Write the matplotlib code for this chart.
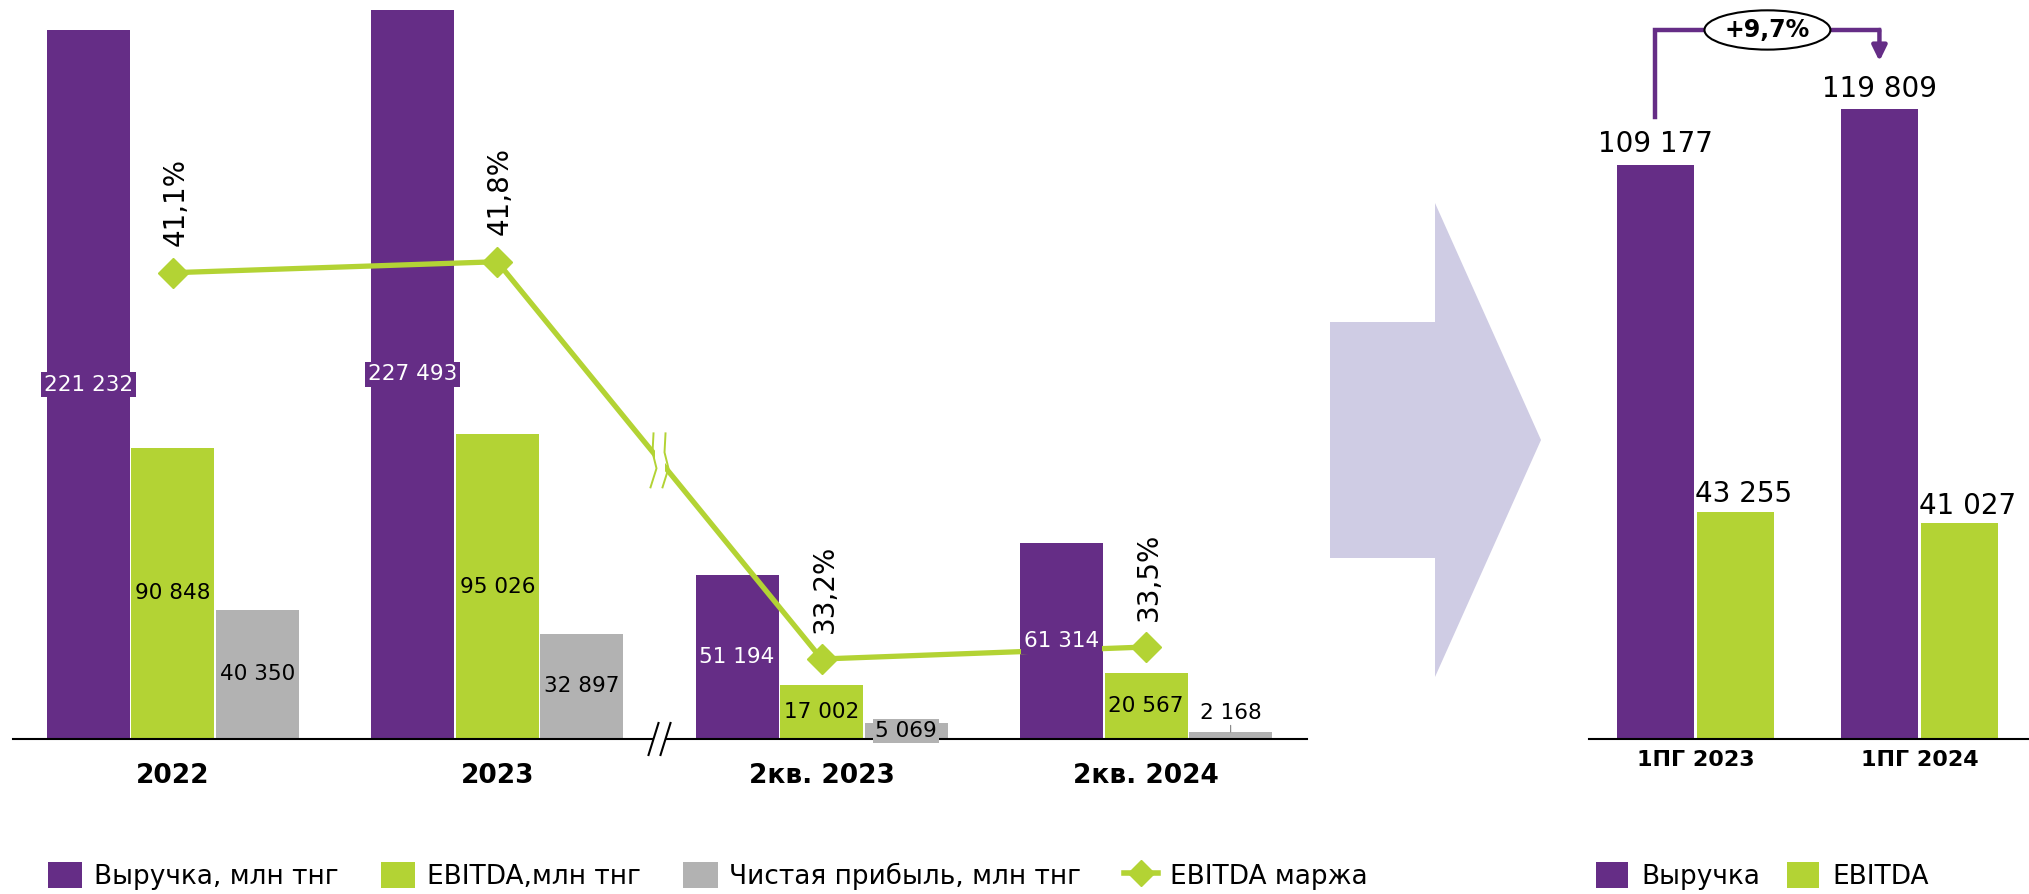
import numpy as np
import matplotlib
matplotlib.use("Agg")
import matplotlib.pyplot as plt
import matplotlib.transforms as mtransforms
from matplotlib.patches import Patch, Polygon, Rectangle
from matplotlib.lines import Line2D

# данные
periods = ["2022", "2023", "2кв. 2023", "2кв. 2024"]
revenue = [221232, 227493, 51194, 61314]
ebitda = [90848, 95026, 17002, 20567]
net_profit = [40350, 32897, 5069, 2168]
ebitda_margin = [41.1, 41.8, 33.2, 33.5]

half_years = ["1ПГ 2023", "1ПГ 2024"]
hy_revenue = [109177, 119809]
hy_ebitda = [43255, 41027]
hy_growth = "+9,7%"

legend_left = ["Выручка, млн тнг", "EBITDA,млн тнг", "Чистая прибыль, млн тнг", "EBITDA маржа"]
legend_right = ["Выручка", "EBITDA"]

PURPLE = "#652D86"
GREEN = "#B3D334"
GREY = "#B2B2B2"
LAVENDER = "#CFCCE4"

plt.rcParams['font.family'] = ['DejaVu Sans']

W, H = 2029, 894
fig = plt.figure(figsize=(W / 100, H / 100), dpi=100)


def fmt(v):
    return f"{v:,}".replace(",", " ")


def px(x, y):  # пиксели (от верхнего края) -> доли фигуры
    return x / W, 1 - y / H


# большая стрелка между графиками
arrow_pts = [(1330, 322), (1435, 322), (1435, 203), (1541, 440),
             (1435, 677), (1435, 558), (1330, 558)]
fig.add_artist(Polygon([px(*p) for p in arrow_pts], closed=True,
                       transform=fig.transFigure, fc=LAVENDER, ec='none'))

# ---- левый график ----
ax = fig.add_axes([13 / W, 155 / H, 1294 / W, 739 / H])
x = np.arange(len(periods))
bw, off = 0.256, 0.2606
ax.bar(x - off, revenue, bw, color=PURPLE)
ax.bar(x, ebitda, bw, color=GREEN)
ax.bar(x + off, net_profit, bw, color=GREY)
ax.set_xlim(-0.493, 3.496)
ax.set_ylim(0, 230600)
ax.set_yticks([])
ax.set_xticks(x, periods, fontsize=19, fontweight='bold')
ax.tick_params(axis='x', length=0, pad=17)
for s in ['top', 'left', 'right']:
    ax.spines[s].set_visible(False)
ax.spines['bottom'].set_linewidth(1.5)

# маржа EBITDA - ось с разрывом
BRK = 37.5


def fwd(v):
    v = np.asarray(v, dtype=float)
    return np.where(v < BRK, (v - 31.2) * 40, (v - 11.4) * 15.7)


def inv(h):
    h = np.asarray(h, dtype=float)
    return np.where(h < (BRK - 31.2) * 40, h / 40 + 31.2,
                    np.maximum(h / 15.7 + 11.4, BRK))


ax2 = ax.twinx()
ax2.set_yscale('function', functions=(fwd, inv))
ax2.set_ylim(31.2, 11.4 + 739 / 15.7)
ax2.set_yticks([])
for s in ax2.spines.values():
    s.set_visible(False)
ax2.plot(x, ebitda_margin, color=GREEN, lw=3.8, marker='D', ms=15, zorder=3)
for xi, m in zip(x, ebitda_margin):
    ax2.annotate(f"{m:.1f}%".replace(".", ","), (xi, m), xytext=(2, 19),
                 textcoords='offset points', rotation=90, ha='center', va='bottom', fontsize=20)

# подписи столбцов (поверх линии)
lab = dict(xycoords=ax.transData, ha='center', va='center', fontsize=15.5, zorder=5)
for i in range(len(periods)):
    ax2.annotate(fmt(revenue[i]), (x[i] - off, revenue[i] / 2), color='white',
                 bbox=dict(boxstyle='square,pad=0.13', fc=PURPLE, ec='none'), **lab)
    ax2.annotate(fmt(ebitda[i]), (x[i], ebitda[i] / 2), color='black', **lab)
    v = net_profit[i]
    share = v / max(net_profit)
    if share < 0.08:
        ax2.annotate(fmt(v), (x[i] + off, v), xycoords=ax.transData, xytext=(0, 14),
                     textcoords='offset points', ha='center', va='center', fontsize=15.5,
                     arrowprops=dict(arrowstyle='-', color='#808080', lw=0.8, shrinkA=0, shrinkB=0))
    elif share < 0.2:
        ax2.annotate(fmt(v), (x[i] + off, v / 2), color='black',
                     bbox=dict(boxstyle='square,pad=0.1', fc=GREY, ec='none'), **lab)
    else:
        ax2.annotate(fmt(v), (x[i] + off, v / 2), color='black', **lab)

# знаки разрыва
ident = mtransforms.IdentityTransform()
bx, by = ax.transData.transform((1.5, 0))
fig.add_artist(Rectangle((bx - 6, by - 3), 12, 6, transform=ident, fc='white', ec='none', zorder=5))
for dx in (-6, 6):
    fig.add_artist(Line2D([bx + dx - 5, bx + dx + 5], [by - 16, by + 16], transform=ident,
                          color='black', lw=1.5, zorder=6))

p1 = ax2.transData.transform((1, ebitda_margin[1]))
p2 = ax2.transData.transform((2, ebitda_margin[2]))
mx, my = (p1 + p2) / 2
fig.add_artist(Rectangle((mx - 5, my - 20), 10, 40, transform=ident, fc='white', ec='none', zorder=5))
zig = np.array([(0, 27), (-1, 8), (3, -8), (-3, -27)])
for dx in (-6, 6):
    fig.add_artist(Line2D(mx + dx + zig[:, 0], my + zig[:, 1], transform=ident,
                          color=GREEN, lw=1.4, zorder=6))

# ---- правый график ----
axr = fig.add_axes([1589 / W, 155 / H, 440 / W, 739 / H])
xr = np.arange(len(half_years))
bwr, offr = 0.344, 0.1786
axr.bar(xr - offr, hy_revenue, bwr, color=PURPLE)
axr.bar(xr + offr, hy_ebitda, bwr, color=GREEN)
axr.set_xlim(-0.475, 1.489)
axr.set_ylim(0, 140550)
axr.set_yticks([])
axr.set_xticks(xr, half_years, fontsize=16, fontweight='bold')
axr.tick_params(axis='x', length=0, pad=8)
for s in ['top', 'left', 'right']:
    axr.spines[s].set_visible(False)
axr.spines['bottom'].set_linewidth(1.5)

for xi, r, e in zip(xr, hy_revenue, hy_ebitda):
    axr.annotate(fmt(r), (xi - offr, r), xytext=(0, 9), textcoords='offset points',
                 ha='center', va='baseline', fontsize=20)
    axr.annotate(fmt(e), (xi + offr, e), xytext=(6, 7), textcoords='offset points',
                 ha='center', va='baseline', fontsize=20)

# скобка с приростом
gap = 9100
x0, x1 = xr[0] - offr, xr[1] - offr
y0, y1 = hy_revenue[0] + gap, hy_revenue[1] + gap
ytop = max(hy_revenue) + 15040
axr.plot([x0, x0, x1], [y0, ytop, ytop], color=PURPLE, lw=3.2,
         solid_joinstyle='miter', solid_capstyle='projecting', clip_on=False)
axr.annotate('', xy=(x1, y1), xytext=(x1, ytop),
             arrowprops=dict(arrowstyle='-|>,head_length=0.45,head_width=0.22', color=PURPLE,
                             lw=3.2, mutation_scale=20, shrinkA=0, shrinkB=0))
axr.text((x0 + x1) / 2, ytop, hy_growth, ha='center', va='center', fontsize=17,
         fontweight='bold', zorder=4,
         bbox=dict(boxstyle='ellipse,pad=0.08', fc='white', ec='black', lw=1.5))

# легенды
h_left = [Patch(fc=PURPLE), Patch(fc=GREEN), Patch(fc=GREY),
          Line2D([], [], color=GREEN, lw=4, marker='D', ms=13)]
fig.legend(h_left, legend_left, loc='center left', bbox_to_anchor=px(48, 876), ncol=4,
           frameon=False, fontsize=19, handlelength=1.3, handleheight=1.15,
           handletextpad=0.45, columnspacing=1.6, borderpad=0, borderaxespad=0)
fig.legend([Patch(fc=PURPLE), Patch(fc=GREEN)], legend_right, loc='center left',
           bbox_to_anchor=px(1596, 876), ncol=2, frameon=False, fontsize=19,
           handlelength=1.2, handleheight=1.15, handletextpad=0.53, columnspacing=1.0,
           borderpad=0, borderaxespad=0)

fig.savefig("out.png", dpi=100)
